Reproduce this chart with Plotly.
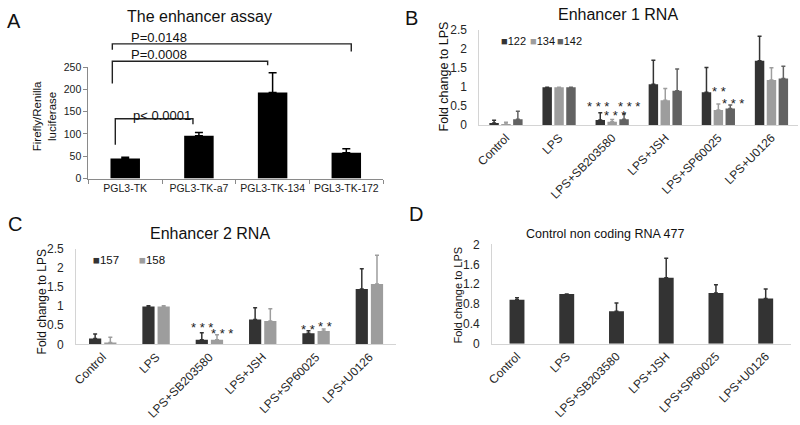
import plotly.graph_objects as go

FONT = "Liberation Sans, Arial, sans-serif"
W, H = 800, 425

# ---------------- data ----------------
# Panel A
a_categories = ["PGL3-TK", "PGL3-TK-a7", "PGL3-TK-134", "PGL3-TK-172"]
a_values = [45, 96, 193, 58]
a_err = [3, 7, 44, 9]
a_yticks = [0, 50, 100, 150, 200, 250]
# significance brackets: (left cat, right cat, top value, left end value, right end value, label)
a_brackets = [
    (0, 1, 134, 76, 122, "p< 0.0001"),
    (0, 2, 263, 213, 254, "P=0.0008"),
    (0, 3, 302, 289, 285, "P=0.0148"),
]

treatments = ["Control", "LPS", "LPS+SB203580", "LPS+JSH", "LPS+SP60025", "LPS+U0126"]

# Panel B (Enhancer 1 RNA)
b_series = ["122", "134", "142"]
b_122 = [0.06, 1.00, 0.14, 1.08, 0.87, 1.70]
b_122_err = [0.07, 0.00, 0.19, 0.63, 0.65, 0.64]
b_134 = [0.03, 1.00, 0.09, 0.66, 0.40, 1.19]
b_134_err = [0.05, 0.00, 0.06, 0.31, 0.16, 0.32]
b_142 = [0.16, 1.00, 0.16, 0.91, 0.44, 1.23]
b_142_err = [0.21, 0.00, 0.14, 0.57, 0.09, 0.32]
b_yticks = [0, 0.5, 1, 1.5, 2, 2.5]
# stars: (category index, series index, label, value)
b_stars = [(2, 0, "* * *", 0.58), (2, 1, "* * *", 0.33), (2, 2, "* * *", 0.58),
           (4, 1, "* *", 0.96), (4, 2, "* * *", 0.65)]

# Panel C (Enhancer 2 RNA)
c_series = ["157", "158"]
c_157 = [0.15, 0.99, 0.12, 0.65, 0.29, 1.45]
c_157_err = [0.12, 0.02, 0.18, 0.31, 0.065, 0.53]
c_158 = [0.05, 0.99, 0.12, 0.61, 0.35, 1.58]
c_158_err = [0.135, 0.02, 0.13, 0.32, 0.05, 0.75]
c_yticks = [0, 0.5, 1, 1.5, 2, 2.5]
c_stars = [(2, 0, "* * *", 0.52), (2, 1, "* * *", 0.355),
           (4, 0, "* *", 0.47), (4, 1, "* *", 0.54)]

# Panel D (Control non coding RNA 477)
d_values = [0.885, 1.00, 0.655, 1.33, 1.02, 0.91]
d_err = [0.04, 0.00, 0.165, 0.39, 0.17, 0.19]
d_yticks = [0, 0.4, 0.8, 1.2, 1.6, 2]

# ---------------- styling ----------------
DARK = "#333333"
LIGHT = "#9d9d9d"
MID = "#626262"
AXIS_LIGHT = "#d4d4d4"


def px(x, y):
    return x / W, 1 - y / H


def dom_x(x0, x1):
    return [x0 / W, x1 / W]


def dom_y(top, bottom):
    return [1 - bottom / H, 1 - top / H]


# pixel frames of each plot area (top given for the slightly padded range maximum)
A_X0, A_X1, A_TOP, A_BOT = 83, 380, 62.5, 178
B_X0, B_X1, B_TOP, B_BOT = 477, 798, 24.7, 123
C_X0, C_X1, C_TOP, C_BOT = 70.6, 393, 250.2, 349
D_X0, D_X1, D_TOP, D_BOT = 489.8, 790.5, 245.6, 348.3
A_MAX, B_MAX, C_MAX, D_MAX = 251, 2.508, 2.508, 2.008

fig = go.Figure()

# Panel A bars
fig.add_trace(go.Bar(
    x=a_categories, y=a_values, width=0.40, xaxis="x", yaxis="y",
    marker=dict(color="#000000", line=dict(width=0)),
    error_y=dict(type="data", array=a_err, arrayminus=[0] * len(a_err), symmetric=False,
                 color="#000000", thickness=1.5, width=4),
    showlegend=False,
))

# Panel B bars
b_step, b_w = 0.224, 0.178
for k, (vals, errs, col) in enumerate([(b_122, b_122_err, DARK), (b_134, b_134_err, LIGHT),
                                        (b_142, b_142_err, MID)]):
    fig.add_trace(go.Bar(
        x=treatments, y=vals, width=b_w, offset=(k - 1) * b_step - b_w / 2,
        xaxis="x2", yaxis="y2", name=b_series[k],
        marker=dict(color=col, line=dict(width=0)),
        error_y=dict(type="data", array=errs, arrayminus=[0] * len(errs), symmetric=False,
                     color=col, thickness=1.5, width=2),
        showlegend=False,
    ))

# Panel C bars
c_step, c_w = 0.285, 0.229
for k, (vals, errs, col) in enumerate([(c_157, c_157_err, DARK), (c_158, c_158_err, LIGHT)]):
    fig.add_trace(go.Bar(
        x=treatments, y=vals, width=c_w, offset=(k - 0.5) * c_step - c_w / 2,
        xaxis="x3", yaxis="y3", name=c_series[k],
        marker=dict(color=col, line=dict(width=0)),
        error_y=dict(type="data", array=errs, arrayminus=[0] * len(errs), symmetric=False,
                     color=col, thickness=1.5, width=2),
        showlegend=False,
    ))

# Panel D bars
fig.add_trace(go.Bar(
    x=treatments, y=d_values, width=0.30, xaxis="x4", yaxis="y4",
    marker=dict(color=DARK, line=dict(width=0)),
    error_y=dict(type="data", array=d_err, arrayminus=[0] * len(d_err), symmetric=False,
                 color=DARK, thickness=1.5, width=2),
    showlegend=False,
))

tickfont = dict(family=FONT, size=12, color="#262626")

light_x = dict(type="category", showline=True, linecolor=AXIS_LIGHT, linewidth=1,
               ticks="", showgrid=False, zeroline=False, tickangle=-45,
               tickfont=tickfont, ticklabelstandoff=0, range=[-0.5, 5.5])


def light_y(rng, ticks):
    return dict(range=rng, tickvals=ticks, showline=True, linecolor=AXIS_LIGHT, linewidth=1,
                ticks="", showgrid=False, zeroline=False, tickfont=tickfont,
                ticklabelstandoff=9)


layout = dict(
    width=W, height=H, margin=dict(l=0, r=0, t=0, b=0),
    paper_bgcolor="white", plot_bgcolor="white", barmode="overlay",
    font=dict(family=FONT, color="#1a1a1a"),
    xaxis=dict(domain=dom_x(A_X0, A_X1), anchor="y", type="category", showline=True,
               linecolor="#8a8a8a", ticks="outside", tickson="boundaries", ticklen=4,
               tickcolor="#8a8a8a", showgrid=False, zeroline=False, range=[-0.5, 3.5],
               tickangle=0, tickfont=dict(family=FONT, size=10.5, color="#1a1a1a")),
    yaxis=dict(domain=dom_y(A_TOP, A_BOT), anchor="x", range=[0, A_MAX], tickvals=a_yticks,
               showline=True, linecolor="#8a8a8a", ticks="outside", ticklen=4,
               tickcolor="#8a8a8a", showgrid=False, zeroline=False,
               tickfont=dict(family=FONT, size=10.5, color="#1a1a1a")),
    xaxis2=dict(light_x, domain=dom_x(B_X0, B_X1), anchor="y2"),
    yaxis2=dict(light_y([0, B_MAX], b_yticks), domain=dom_y(B_TOP, B_BOT), anchor="x2"),
    xaxis3=dict(light_x, domain=dom_x(C_X0, C_X1), anchor="y3"),
    yaxis3=dict(light_y([0, C_MAX], c_yticks), domain=dom_y(C_TOP, C_BOT), anchor="x3"),
    xaxis4=dict(light_x, domain=dom_x(D_X0, D_X1), anchor="y4"),
    yaxis4=dict(light_y([0, D_MAX], d_yticks), domain=dom_y(D_TOP, D_BOT), anchor="x4"),
)
fig.update_layout(**layout)

annotations = []
shapes = []


def text(x, y, s, size, xanchor="center", angle=0, color="#111111"):
    px_, py_ = px(x, y)
    annotations.append(dict(x=px_, y=py_, xref="paper", yref="paper", text=s, showarrow=False,
                            xanchor=xanchor, yanchor="middle", textangle=angle,
                            font=dict(family=FONT, size=size, color=color)))


# panel letters
text(8, 15, "A", 20)
text(409, 12, "B", 20)
text(9, 225, "C", 20)
text(413, 215, "D", 20)

# panel titles
text(195, 11, "The enhancer assay", 16)
text(617, 9, "Enhancer 1 RNA", 16)
text(206, 235, "Enhancer 2 RNA", 16)
text(604, 235, "Control non coding RNA 477", 12.5)

# y-axis titles
annotations.append(dict(x=px(39, 0)[0], y=px(0, 114)[1], xref="paper", yref="paper",
                        text="Firefly/Renilla<br>luciferase", showarrow=False, textangle=-90,
                        xanchor="center", yanchor="middle",
                        font=dict(family=FONT, size=11.5, color="#111111")))
text(441, 73, "Fold change to LPS", 12.5, angle=-90)
text(36, 305, "Fold change to LPS", 12, angle=-90)
text(455, 298, "Fold change to LPS", 11, angle=-90)

# Panel A brackets (data -> pixel -> paper)
a_cat_w = (A_X1 - A_X0) / len(a_categories)


def a_px_x(i, shift):
    return A_X0 + (i + 0.5) * a_cat_w + shift


def a_px_y(v):
    return A_BOT - v * (A_BOT - A_TOP) / A_MAX


bracket_shift = [(-10, -6), (-13, -5), (-13, 5)]
label_y_off = [-3, -7, -7]
for (i0, i1, ytop, yl, yr, lab), (s0, s1), lo in zip(a_brackets, bracket_shift, label_y_off):
    x0, x1 = a_px_x(i0, s0), a_px_x(i1, s1)
    p0 = px(x0, a_px_y(yl))
    p1 = px(x0, a_px_y(ytop))
    p2 = px(x1, a_px_y(ytop))
    p3 = px(x1, a_px_y(yr))
    shapes.append(dict(type="path", xref="paper", yref="paper",
                       path=f"M{p0[0]},{p0[1]} L{p1[0]},{p1[1]} L{p2[0]},{p2[1]} L{p3[0]},{p3[1]}",
                       line=dict(color="#222222", width=1.4)))
    text(x0 + 47, a_px_y(ytop) + lo, lab, 13)

# legends (B and C)
for k, (name, col) in enumerate(zip(b_series, [DARK, LIGHT, MID])):
    text([497, 526, 553][k], 36, f"<span style='color:{col}'>■</span>{name}", 11,
         xanchor="left")
for k, (name, col) in enumerate(zip(c_series, [DARK, LIGHT])):
    text([86, 132][k], 262, f"<span style='color:{col}'>■</span>{name}", 11.5,
         xanchor="left")

# significance stars
star_dx_b = {(2, 0): -0.05, (2, 1): 0.06, (2, 2): 0.1, (4, 1): 0.02, (4, 2): 0.05}
for ci, si, lab, val in b_stars:
    annotations.append(dict(x=ci + (si - 1) * b_step + star_dx_b[(ci, si)], y=val,
                            xref="x2", yref="y2", text=lab, showarrow=False,
                            xanchor="center", yanchor="middle", yshift=-3,
                            font=dict(family=FONT, size=13, color="#222222")))
star_dx_c = {(2, 0): 0.0, (2, 1): 0.09, (4, 0): 0.0, (4, 1): 0.02}
for ci, si, lab, val in c_stars:
    annotations.append(dict(x=ci + (si - 0.5) * c_step + star_dx_c[(ci, si)], y=val,
                            xref="x3", yref="y3", text=lab, showarrow=False,
                            xanchor="center", yanchor="middle", yshift=-3,
                            font=dict(family=FONT, size=13, color="#222222")))

fig.update_layout(annotations=annotations, shapes=shapes)
fig.write_html("out.html", config={"displayModeBar": False},
               post_script="document.body.style.margin='0';document.body.style.overflow='hidden';")
